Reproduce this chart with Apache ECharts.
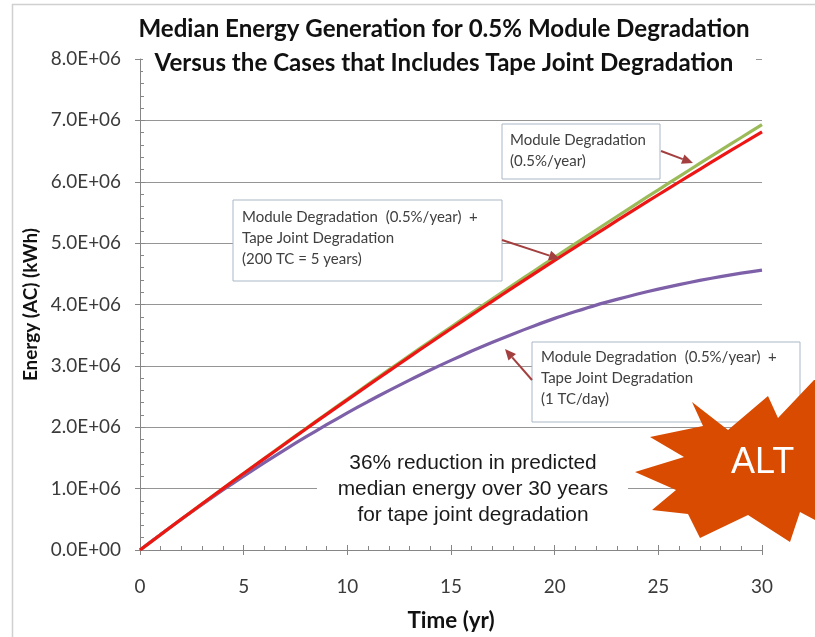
<!DOCTYPE html>
<html><head><meta charset="utf-8">
<script src="https://cdn.jsdelivr.net/npm/echarts@6/dist/echarts.min.js"></script>
<style>html,body{margin:0;padding:0;background:#fff}#c{width:815px;height:637px}</style>
</head><body><div id="c"></div>
<script>
// Time (yr)
const years = [0,1,2,3,4,5,6,7,8,9,10,11,12,13,14,15,16,17,18,19,20,21,22,23,24,25,26,27,28,29,30];
// Cumulative median energy, millions of kWh
const moduleOnly = [0,0.253,0.504,0.754,1.002,1.249,1.494,1.738,1.980,2.221,2.460,2.698,2.934,3.169,3.402,3.634,3.864,4.093,4.320,4.546,4.770,4.993,5.214,5.434,5.652,5.869,6.084,6.298,6.510,6.721,6.930];
const tape200TC = [0,0.253,0.504,0.753,1.000,1.246,1.489,1.731,1.972,2.210,2.447,2.682,2.915,3.147,3.377,3.605,3.831,4.055,4.278,4.499,4.718,4.935,5.151,5.365,5.577,5.788,5.996,6.203,6.408,6.611,6.813];
const tape1TCday = [0,0.254,0.502,0.743,0.977,1.203,1.423,1.636,1.842,2.041,2.234,2.419,2.597,2.768,2.933,3.090,3.241,3.385,3.521,3.651,3.774,3.885,3.990,4.083,4.170,4.250,4.324,4.392,4.454,4.510,4.560];
const yTickValues = [0,1e6,2e6,3e6,4e6,5e6,6e6,7e6,8e6];
const xTickValues = [0,5,10,15,20,25,30];

const titleLines = ['Median Energy Generation for 0.5% Module Degradation','Versus the Cases that Includes Tape Joint Degradation'];
const noteLines = ['36% reduction in predicted','median energy over 30 years','for tape joint degradation'];

function sci(v){
  const p = Number(v).toExponential(1).split('e');
  const sign = p[1][0];
  const d = p[1].slice(1).padStart(2,'0');
  return p[0] + 'E' + sign + d;
}
const toData = arr => years.map((t,i)=>[t, arr[i]*1e6]);

const ctx = document.createElement('canvas').getContext('2d');
function fit(text, family, weight, target){
  ctx.font = weight + ' 100px "' + family + '"';
  return Math.round(1000*target/ctx.measureText(text).width)/10;
}
const CAL = 'Lato';
const titleSize = fit(titleLines[0], CAL, 'bold', 612);
const tickSize = fit('8.0E+06', CAL, 'normal', 70);
const yNameSize = fit('Energy (AC) (kWh)', CAL, 'bold', 153);
const xNameSize = fit('Time (yr)', CAL, 'bold', 87);
const boxSize = fit('Module Degradation', CAL, 'normal', 136);
const noteSize = fit(noteLines[1], 'Liberation Sans', 'normal', 271);

const axisGray = '#868686';
const lblFont = {fontFamily:CAL, fontSize:tickSize, color:'#3a3a3a'};

function arrow(x1,y1,x2,y2){
  const a = Math.atan2(y2-y1,x2-x1), L=11, W=5;
  const bx = x2 - L*Math.cos(a), by = y2 - L*Math.sin(a);
  const px = -Math.sin(a)*W, py = Math.cos(a)*W;
  return [
    {type:'line', z:120, shape:{x1:x1,y1:y1,x2:bx,y2:by}, style:{stroke:'#a3403f', lineWidth:2}},
    {type:'polygon', z:120, shape:{points:[[x2,y2],[bx+px,by+py],[bx-px,by-py]]}, style:{fill:'#a3403f'}}
  ];
}
function box(x,y,w,h,lines,tx,ty){
  return [
    {type:'rect', z:110, shape:{x:x,y:y,width:w,height:h}, style:{fill:'#fff', stroke:'#a9b7c6', lineWidth:1}},
    {type:'text', z:111, x:tx, y:ty, style:{text:lines.join('\n'), fontFamily:CAL, fontSize:boxSize, lineHeight:21, fill:'#404040'}}
  ];
}

const chart = echarts.init(document.getElementById('c'), null, {renderer:'canvas'});
chart.setOption({
  animation:false,
  backgroundColor:'#fff',
  grid:{left:140, right:53, top:59, bottom:83.5, containLabel:false},
  xAxis:[
    {type:'value', min:0, max:30, interval:5, gridIndex:0,
     name:'Time (yr)', nameLocation:'middle', nameGap:60,
     nameTextStyle:{fontFamily:CAL, fontWeight:'bold', fontSize:xNameSize, color:'#111'},
     axisLine:{show:true, lineStyle:{color:axisGray, width:1}},
     axisTick:{show:true, inside:false, length:5, lineStyle:{color:axisGray}},
     axisLabel:{margin:27, formatter:v=>String(v), ...lblFont},
     splitLine:{show:false}},
    {type:'value', min:0, max:30, interval:5, gridIndex:0, position:'bottom',
     axisLine:{show:false}, axisLabel:{show:false}, splitLine:{show:false},
     axisTick:{show:true, inside:true, length:5, lineStyle:{color:axisGray}},
     minorTick:{show:true, splitNumber:5, length:4, lineStyle:{color:axisGray}}}
  ],
  yAxis:[
    {type:'value', min:0, max:8e6, interval:1e6, gridIndex:0,
     name:'Energy (AC) (kWh)', nameLocation:'middle', nameGap:89, nameRotate:90,
     nameTextStyle:{fontFamily:CAL, fontWeight:'bold', fontSize:yNameSize, color:'#111'},
     axisLine:{show:true, lineStyle:{color:axisGray, width:1}},
     axisTick:{show:true, inside:false, length:5, lineStyle:{color:axisGray}},
     axisLabel:{margin:19, formatter:v=>sci(v), ...lblFont},
     splitLine:{show:true, lineStyle:{color:'#959595', width:1}}},
    {type:'value', min:0, max:8e6, interval:1e6, gridIndex:0, position:'left',
     axisLine:{show:false}, axisLabel:{show:false}, splitLine:{show:false},
     axisTick:{show:true, inside:true, length:5, lineStyle:{color:axisGray}},
     minorTick:{show:true, splitNumber:5, length:4, lineStyle:{color:axisGray}}}
  ],
  series:[
    {type:'line', name:'Module + Tape Joint (1 TC/day)', data:toData(tape1TCday), showSymbol:false, smooth:0.3,
     lineStyle:{color:'#7d60a8', width:3.2}, z:3},
    {type:'line', name:'Module Degradation (0.5%/year)', data:toData(moduleOnly), showSymbol:false, smooth:0.3,
     lineStyle:{color:'#9bbb59', width:3.2}, z:4},
    {type:'line', name:'Module + Tape Joint (200 TC = 5 years)', data:toData(tape200TC), showSymbol:false, smooth:0.3,
     lineStyle:{color:'#ee1515', width:3.2}, z:5}
  ],
  graphic:[].concat(
    [
      {type:'line', z:0, shape:{x1:12.5,y1:4,x2:12.5,y2:637}, style:{stroke:'#d0d0d0', lineWidth:1.5}},
      {type:'line', z:0, shape:{x1:12,y1:4.5,x2:815,y2:4.5}, style:{stroke:'#d0d0d0', lineWidth:1.5}},
      {type:'rect', z:100, shape:{x:143,y:12,width:613,height:70}, style:{fill:'#fff'}},
      {type:'text', z:101, x:444, y:12,
       style:{text:titleLines.join('\n'), align:'center', textAlign:'center', verticalAlign:'top', textVerticalAlign:'top',
              fontFamily:CAL, fontWeight:'bold', fontSize:titleSize, lineHeight:34, fill:'#111'}},
      {type:'rect', z:100, shape:{x:317,y:446,width:311,height:86}, style:{fill:'#fff'}},
      {type:'text', z:101, x:473, y:450,
       style:{text:noteLines.join('\n'), align:'center', textAlign:'center', verticalAlign:'top', textVerticalAlign:'top',
              fontFamily:'Liberation Sans', fontSize:noteSize, lineHeight:26, fill:'#1a1a1a'}}
    ],
    box(502,124,158,55,['Module Degradation','(0.5%/year)'],510,130),
    arrow(661,151,693,163),
    box(233,200,269,81,['Module Degradation  (0.5%/year)  +','Tape Joint Degradation','(200 TC = 5 years)'],242,207),
    arrow(502,240,560,259),
    box(532,342,268,80,['Module Degradation  (0.5%/year)  +','Tape Joint Degradation','(1 TC/day)'],541,347),
    arrow(532,380,505,349),
    [
      {type:'polygon', z:130, shape:{points:[[692,402],[728,430],[768,396],[778,418],[814,380],[815,380],[815,520],[800,512],[790,542],[748,515],[700,538],[688,514],[652,510],[676,490],[635,472],[684,457],[650,437],[703,426]]},
       style:{fill:'#d84b00'}},
      {type:'text', z:131, x:731, y:445, style:{text:'ALT', fontFamily:'Liberation Sans', fontSize:36, fill:'#fff'}}
    ]
  )
});
</script></body></html>
